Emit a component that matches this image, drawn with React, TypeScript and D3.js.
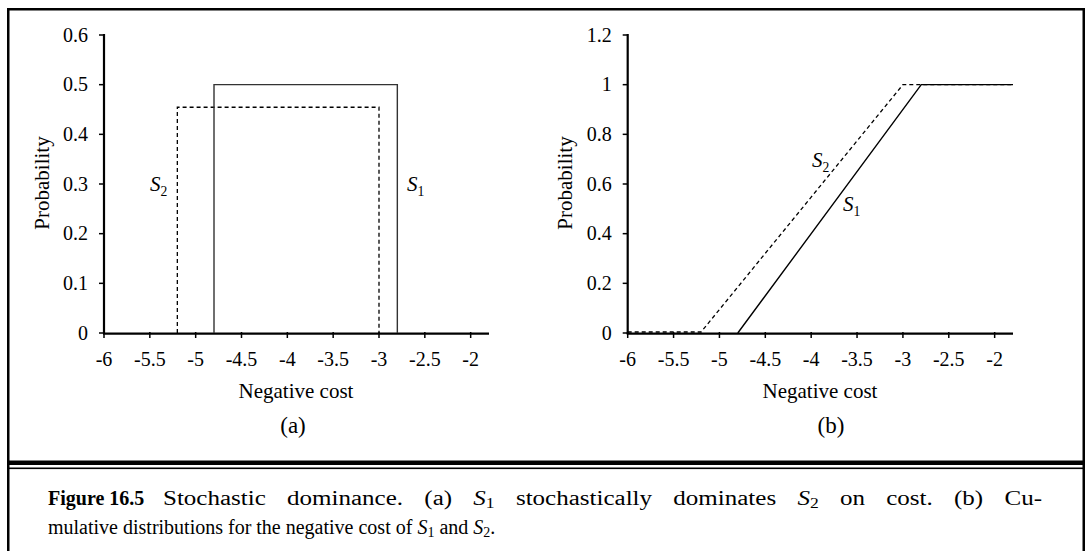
import React from "react";
import * as d3 from "d3";

// ---- data ----
const xTicks = [-6, -5.5, -5, -4.5, -4, -3.5, -3, -2.5, -2];
const yTicksA = [0, 0.1, 0.2, 0.3, 0.4, 0.5, 0.6];
const yTicksB = [0, 0.2, 0.4, 0.6, 0.8, 1, 1.2];
// (a) uniform densities
const s1Density: [number, number][] = [[-4.8, 0], [-4.8, 0.5], [-2.8, 0.5], [-2.8, 0]];
const s2Density: [number, number][] = [[-5.2, 0], [-5.2, 0.4545], [-3.0, 0.4545], [-3.0, 0]];
// (b) cumulative distributions
const s1Cdf: [number, number][] = [[-4.8, 0], [-2.8, 1], [-1.8, 1]];
const s2Cdf: [number, number][] = [[-6, 0.004], [-5.2, 0.004], [-3.0, 1], [-1.8, 1]];

const W = 1089, H = 551;
const FONT = "'Liberation Serif', 'Times New Roman', serif";

function fmt(v: number) {
  return String(+v.toFixed(2));
}

function SLabel({ x, y, sub, size = 21 }: { x: number; y: number; sub: string; size?: number }) {
  return (
    <text x={x} y={y} fontFamily={FONT} fontSize={size} fill="#000">
      <tspan fontStyle="italic">S</tspan>
      <tspan fontSize={size * 0.65} dy={5}>{sub}</tspan>
    </text>
  );
}

function Panel({
  x0, x1, yTicks, yMax, children, label, labelX, xTitleX, yTitleX,
}: {
  x0: number; x1: number; yTicks: number[]; yMax: number;
  children: (x: d3.ScaleLinear<number, number>, y: d3.ScaleLinear<number, number>) => React.ReactNode;
  label: string; labelX: number; xTitleX: number; yTitleX: number;
}) {
  const x = d3.scaleLinear().domain([-6, -1.8]).range([x0, x1]);
  const y = d3.scaleLinear().domain([0, yMax]).range([333, 35]);
  return (
    <g>
      {/* y axis */}
      <line x1={x(-6)} x2={x(-6)} y1={y(0) + 1} y2={y(yMax) - 1} stroke="#000" strokeWidth={2.2} />
      {yTicks.map((t) => (
        <g key={"y" + t}>
          <line x1={x(-6) - 5} x2={x(-6)} y1={y(t)} y2={y(t)} stroke="#000" strokeWidth={1.5} />
          <text x={x(-6) - 16} y={y(t)} dy="0.33em" textAnchor="end" fontFamily={FONT} fontSize={20}>
            {fmt(t)}
          </text>
        </g>
      ))}
      {/* x axis */}
      <line x1={x(-6) - 1} x2={x(-1.8)} y1={y(0) + 0.6} y2={y(0) + 0.6} stroke="#000" strokeWidth={2.2} />
      {xTicks.map((t) => (
        <g key={"x" + t}>
          <line x1={x(t)} x2={x(t)} y1={y(0) - 1} y2={y(0) + 5} stroke="#000" strokeWidth={1.5} />
          <text x={x(t)} y={y(0) + 33} textAnchor="middle" fontFamily={FONT} fontSize={20}>
            {fmt(t)}
          </text>
        </g>
      ))}
      {children(x, y)}
      <text x={xTitleX} y={398} textAnchor="middle" fontFamily={FONT} fontSize={21}>Negative cost</text>
      <text
        transform={`translate(${yTitleX},183) rotate(-90)`}
        textAnchor="middle" dy="0.32em" fontFamily={FONT} fontSize={21}
      >Probability</text>
      <text x={labelX} y={433} textAnchor="middle" fontFamily={FONT} fontSize={23}>{label}</text>
    </g>
  );
}

export default function App() {
  const line = (x: d3.ScaleLinear<number, number>, y: d3.ScaleLinear<number, number>) =>
    d3.line<[number, number]>().x((d) => x(d[0])).y((d) => y(d[1]));
  return (
    <svg width={W} height={H} style={{ position: "absolute", left: 0, top: 0, background: "#fff" }}>
      <rect x={0} y={0} width={W} height={H} fill="#fff" />
      {/* frame */}
      <rect x={8.25} y={9.25} width={1075.5} height={620} fill="none" stroke="#000" strokeWidth={2.5} />
      <rect x={8} y={460.5} width={1076} height={4.5} fill="#000" />
      <rect x={8} y={467.5} width={1076} height={1.6} fill="#000" />

      <Panel x0={104} x1={489} yTicks={yTicksA} yMax={0.6} label="(a)" labelX={293} xTitleX={296} yTitleX={42}>
        {(x, y) => (
          <g fill="none">
            <path d={line(x, y)(s2Density) || ""} stroke="#000" strokeWidth={1.3} strokeDasharray="4,3" />
            <path d={line(x, y)(s1Density) || ""} stroke="#333" strokeWidth={1.4} />
          </g>
        )}
      </Panel>
      <Panel x0={627.7} x1={1013} yTicks={yTicksB} yMax={1.2} label="(b)" labelX={831} xTitleX={820} yTitleX={565}>
        {(x, y) => (
          <g fill="none">
            <path d={line(x, y)(s2Cdf) || ""} stroke="#000" strokeWidth={1.3} strokeDasharray="4,3" />
            <path d={line(x, y)(s1Cdf) || ""} stroke="#000" strokeWidth={1.4} />
          </g>
        )}
      </Panel>

      <SLabel x={150} y={191} sub="2" />
      <SLabel x={407} y={191} sub="1" />
      <SLabel x={812} y={167} sub="2" />
      <SLabel x={843} y={211} sub="1" />

      {/* caption */}
      <text x={48} y={505} fontFamily={FONT} fontSize={20} fontWeight="bold">Figure 16.5</text>
      <text x={163} y={505} fontFamily={FONT} fontSize={20} wordSpacing={12}
        textLength={879} lengthAdjust="spacingAndGlyphs">
        <tspan>{"Stochastic dominance. (a) "}</tspan>
        <tspan fontStyle="italic">S</tspan>
        <tspan fontSize={14} dy={3}>1</tspan>
        <tspan dy={-3}>{" stochastically dominates "}</tspan>
        <tspan fontStyle="italic">S</tspan>
        <tspan fontSize={14} dy={3}>2</tspan>
        <tspan dy={-3}>{" on cost.  (b) Cu-"}</tspan>
      </text>
      <text x={48} y={534} fontFamily={FONT} fontSize={20}>
        <tspan>{"mulative distributions for the negative cost of "}</tspan>
        <tspan fontStyle="italic">S</tspan>
        <tspan fontSize={14} dy={3}>1</tspan>
        <tspan dy={-3}>{" and "}</tspan>
        <tspan fontStyle="italic">S</tspan>
        <tspan fontSize={14} dy={3}>2</tspan>
        <tspan dy={-3}>.</tspan>
      </text>
    </svg>
  );
}
